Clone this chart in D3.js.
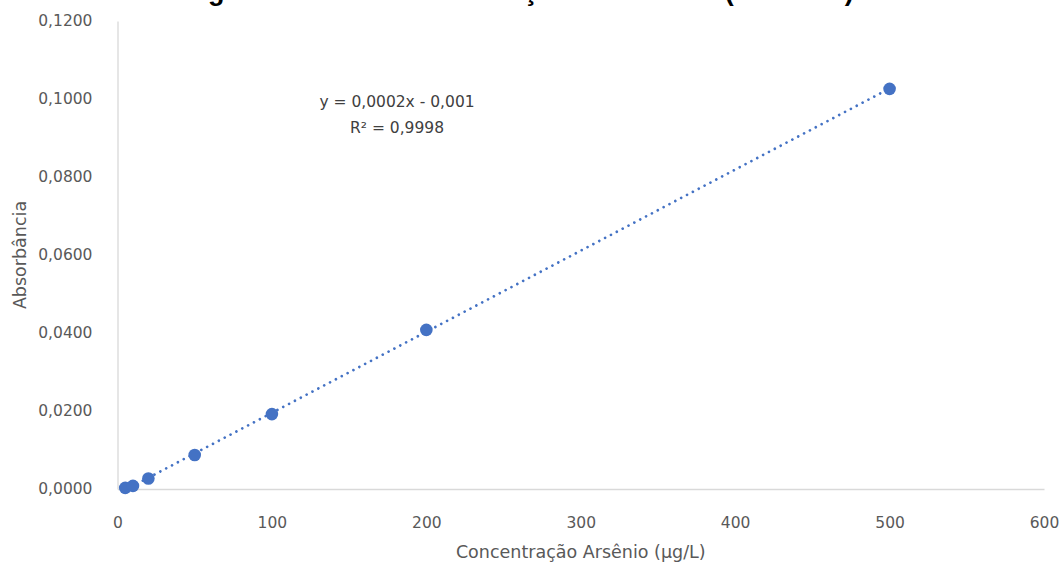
<!DOCTYPE html>
<html>
<head>
<meta charset="utf-8">
<script src="https://cdn.jsdelivr.net/npm/d3@7/dist/d3.min.js"></script>
<style>
  html, body { margin: 0; padding: 0; background: #ffffff; }
  svg { display: block; }
</style>
</head>
<body>
<svg id="chart" width="1064" height="565"></svg>
<script>
// ---- data ----
const concentrations = [5, 10, 20, 50, 100, 200, 500];
const absorbances = [0.0003, 0.0008, 0.0027, 0.0087, 0.0192, 0.0408, 0.1026];
const xTicks = [0, 100, 200, 300, 400, 500, 600];
const yTicks = [0, 0.02, 0.04, 0.06, 0.08, 0.10, 0.12];
const titleText = "Figura 1 - Curva de calibração do Arsênio (ICP-OES)";
const xTitle = "Concentração Arsênio (µg/L)";
const yTitle = "Absorbância";
const equationLines = ["y = 0,0002x - 0,001", "R² = 0,9998"];

// ---- layout ----
const W = 1064, H = 565;
const plot = { left: 117.5, right: 1044, top: 21, bottom: 489 };
const svg = d3.select("#chart");
const font = "'DejaVu Sans', sans-serif";
const blue = "#4472C4";

const x = d3.scaleLinear().domain([0, 600]).range([plot.left, plot.right]);
const y = d3.scaleLinear().domain([0, 0.12]).range([plot.bottom, plot.top]);

const fmtY = v => v.toFixed(4).replace(".", ",");

// title (cropped at top of image, only descenders visible)
svg.append("text")
  .attr("x", 184).attr("y", -0.5)
  .attr("font-family", "'Liberation Sans', Arial, sans-serif")
  .attr("font-weight", "bold")
  .attr("font-size", 27)
  .attr("fill", "#000")
  .text(titleText);

// axes
const xAxis = d3.axisBottom(x).tickValues(xTicks).tickSize(0).tickPadding(0).tickFormat(d => d);
const gx = svg.append("g").attr("transform", `translate(0,${plot.bottom})`).call(xAxis);
gx.select(".domain").attr("stroke", "#d9d9d9").attr("stroke-width", 1.3);
gx.selectAll("text")
  .attr("font-family", font).attr("font-size", 15.5).attr("fill", "#595959")
  .attr("dy", null).attr("y", 39);

const yAxis = d3.axisLeft(y).tickValues(yTicks).tickSize(0).tickPadding(25).tickFormat(fmtY);
const gy = svg.append("g").attr("transform", `translate(${plot.left},0)`).call(yAxis);
gy.select(".domain").attr("stroke", "#d9d9d9").attr("stroke-width", 1.3);
gy.selectAll("text")
  .attr("font-family", font).attr("font-size", 15.5).attr("fill", "#595959");

// axis titles
svg.append("text")
  .attr("x", (plot.left + plot.right) / 2).attr("y", 558)
  .attr("text-anchor", "middle")
  .attr("font-family", font).attr("font-size", 17.5).attr("fill", "#595959")
  .text(xTitle);

svg.append("text")
  .attr("transform", `translate(26,${(plot.top + plot.bottom) / 2}) rotate(-90)`)
  .attr("text-anchor", "middle")
  .attr("font-family", font).attr("font-size", 17.5).attr("fill", "#595959")
  .text(yTitle);

// linear regression trendline
const n = concentrations.length;
const mx = d3.mean(concentrations), my = d3.mean(absorbances);
let sxy = 0, sxx = 0;
for (let i = 0; i < n; i++) {
  sxy += (concentrations[i] - mx) * (absorbances[i] - my);
  sxx += (concentrations[i] - mx) ** 2;
}
const slope = sxy / sxx, intercept = my - slope * mx;
const xMin = d3.min(concentrations), xMax = d3.max(concentrations);
svg.append("line")
  .attr("x1", x(xMin)).attr("y1", y(slope * xMin + intercept))
  .attr("x2", x(xMax)).attr("y2", y(slope * xMax + intercept))
  .attr("stroke", blue).attr("stroke-width", 2.7)
  .attr("stroke-linecap", "round")
  .attr("stroke-dasharray", "0.01 6.6");

// points
svg.append("g").selectAll("circle")
  .data(concentrations.map((c, i) => ({ c, a: absorbances[i] })))
  .join("circle")
  .attr("cx", d => x(d.c)).attr("cy", d => y(d.a))
  .attr("r", 6.3)
  .attr("fill", blue);

// equation label
const eq = svg.append("text")
  .attr("font-family", font).attr("font-size", 15.5).attr("fill", "#404040")
  .attr("text-anchor", "middle");
eq.selectAll("tspan").data(equationLines).join("tspan")
  .attr("x", 397).attr("y", (d, i) => 107 + i * 26)
  .text(d => d);
</script>
</body>
</html>
